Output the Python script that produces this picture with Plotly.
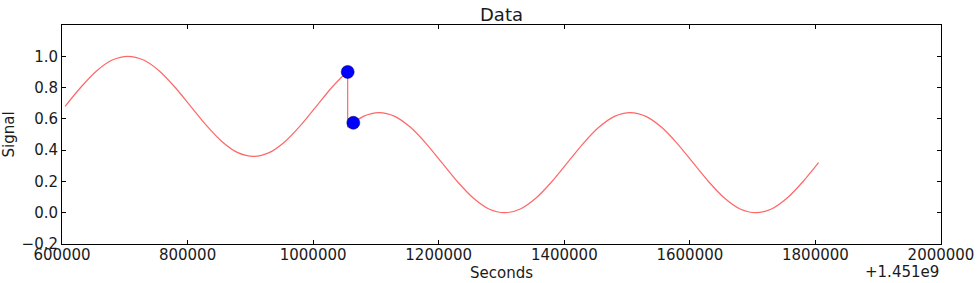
import plotly.graph_objects as go

OFFSET_LABEL = "+1.451e9"

# Seconds (offset from 1.451e9) and signal values
seconds = [605000, 630000, 655000, 680000, 705000, 730000, 755000, 780000, 805000,
           830000, 855000, 880000, 905000, 930000, 955000, 980000, 1005000, 1030000,
           1055000,
           1055000, 1080000, 1105000, 1130000, 1155000, 1180000, 1205000, 1230000,
           1255000, 1280000, 1305000, 1330000, 1355000, 1380000, 1405000, 1430000,
           1455000, 1480000, 1505000, 1530000, 1555000, 1580000, 1605000, 1630000,
           1655000, 1680000, 1705000, 1730000, 1755000, 1780000, 1805000]
signal = [0.680, 0.802, 0.906, 0.976, 1.000, 0.976, 0.906, 0.802, 0.680,
          0.558, 0.454, 0.384, 0.360, 0.384, 0.454, 0.558, 0.680, 0.802,
          0.906,
          0.546, 0.616, 0.640, 0.616, 0.546, 0.442, 0.320, 0.198,
          0.094, 0.024, 0.000, 0.024, 0.094, 0.198, 0.320, 0.442,
          0.546, 0.616, 0.640, 0.616, 0.546, 0.442, 0.320, 0.198,
          0.094, 0.024, 0.000, 0.024, 0.094, 0.198, 0.320]
JUMP_INDEX = 19  # first sample after the discontinuity

marker_seconds = [1055000, 1064000]
marker_signal = [0.90, 0.575]

x_ticks = [600000, 800000, 1000000, 1200000, 1400000, 1600000, 1800000, 2000000]
x_tick_labels = ["600000", "800000", "1000000", "1200000", "1400000", "1600000", "1800000", "2000000"]
y_ticks = [-0.2, 0.0, 0.2, 0.4, 0.6, 0.8, 1.0]
y_tick_labels = ["\u22120.2", "0.0", "0.2", "0.4", "0.6", "0.8", "1.0"]

FONT = "DejaVu Sans"
TXT = "#1a1a1a"
LINE = "rgba(255,0,0,0.6)"

fig = go.Figure()
segments = [
    (slice(0, JUMP_INDEX), "spline"),
    (slice(JUMP_INDEX - 1, JUMP_INDEX + 1), "linear"),
    (slice(JUMP_INDEX, None), "spline"),
]
for sl, shape in segments:
    fig.add_trace(go.Scatter(
        x=seconds[sl], y=signal[sl], mode="lines",
        line=dict(color=LINE, width=1.2, shape=shape, smoothing=0.8) if shape == "spline"
        else dict(color=LINE, width=1.2, shape=shape),
        showlegend=False, hoverinfo="skip"))
fig.add_trace(go.Scatter(
    x=marker_seconds, y=marker_signal, mode="markers",
    marker=dict(color="#0000ff", size=13, line=dict(color="#000040", width=0.5)),
    showlegend=False))

axis_common = dict(
    showgrid=False, zeroline=False, showline=True, linecolor="black", linewidth=1,
    mirror="allticks", ticks="inside", ticklen=4, tickcolor="black", tickwidth=1,
    automargin=False,
    tickfont=dict(family=FONT, size=15, color=TXT))

fig.update_xaxes(range=[600000, 2000000], tickvals=x_ticks, ticktext=x_tick_labels,
                 ticklabelstandoff=-3,
                 title=dict(text="Seconds", font=dict(family=FONT, size=15, color=TXT), standoff=0),
                 **axis_common)
fig.update_yaxes(range=[-0.2, 1.2], tickvals=y_ticks, ticktext=y_tick_labels,
                 title=dict(text="Signal", font=dict(family=FONT, size=15, color=TXT), standoff=8),
                 **axis_common)

fig.add_annotation(text=OFFSET_LABEL, xref="paper", yref="paper", x=1.0, y=-(272 - 244) / 219,
                   xanchor="right", yanchor="middle", showarrow=False,
                   font=dict(family=FONT, size=15, color=TXT))

fig.update_layout(
    width=979, height=283,
    margin=dict(l=62, r=38, t=25, b=39, autoexpand=False),
    paper_bgcolor="white", plot_bgcolor="white",
    title=dict(text="Data", x=0.5, xref="paper", xanchor="center",
               y=1 - 15 / 283, yref="container", yanchor="middle",
               font=dict(family=FONT, size=18, color=TXT)),
)

fig.write_html("out.html")
